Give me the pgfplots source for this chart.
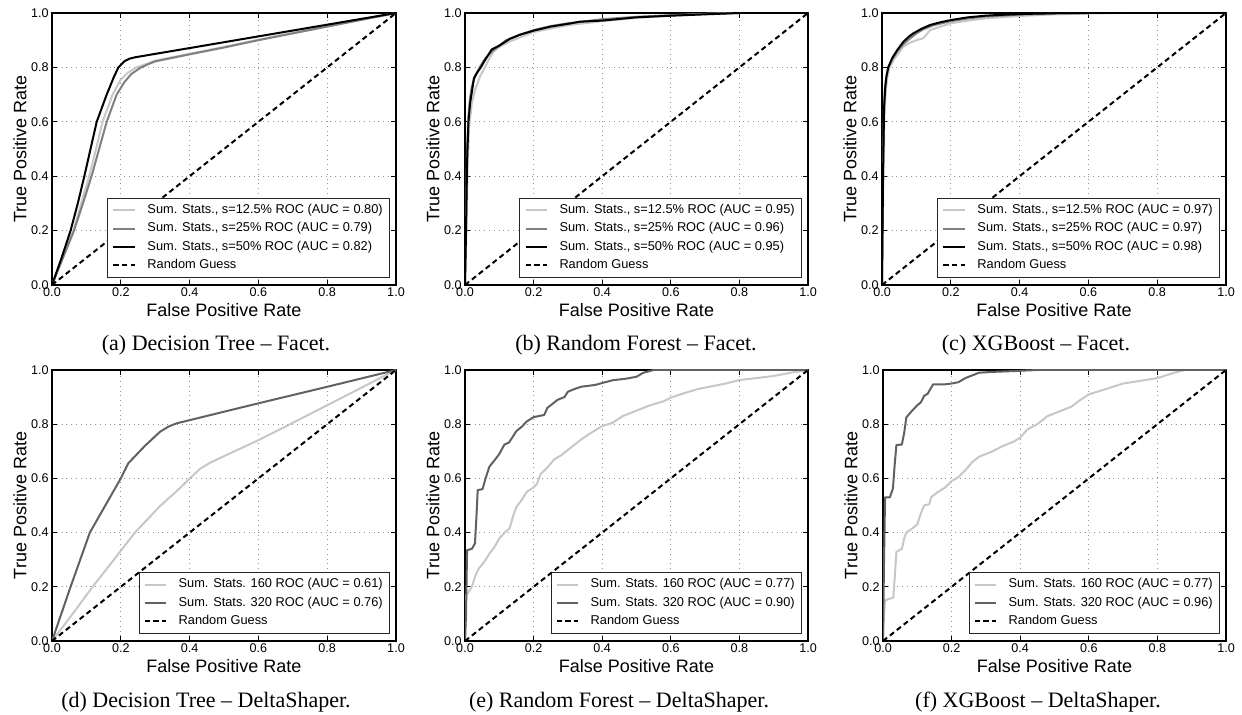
\documentclass[border=0pt]{standalone}
\usepackage{pgfplots}
\pgfplotsset{compat=1.18}
\usepackage{fontspec}
\setmainfont{Liberation Sans}
\newfontfamily\capfont{Liberation Serif}

\definecolor{lgray}{gray}{0.78}
\definecolor{mgray}{gray}{0.5}
\definecolor{dgray}{gray}{0.38}

\pgfplotsset{
  rocax/.style={
    scale only axis, width=172pt, height=136pt,
    xmin=0, xmax=1, ymin=0, ymax=1,
    xtick={0,0.2,0.4,0.6,0.8,1}, ytick={0,0.2,0.4,0.6,0.8,1},
    xticklabels={0.0,0.2,0.4,0.6,0.8,1.0},
    yticklabels={0.0,0.2,0.4,0.6,0.8,1.0},
    grid=major, grid style={dotted, gray!85, line width=0.5pt},
    axis line style={black, line width=0.6pt},
    tick style={black, line width=0.5pt}, major tick length=2.5pt,
    tick label style={font=\fontsize{6.3}{7.5}\selectfont},
    xticklabel style={inner sep=1.1pt},
    yticklabel style={inner sep=1.5pt},
    label style={font=\fontsize{9}{10.5}\selectfont, inner sep=0pt},
    xlabel={False Positive Rate}, ylabel={True Positive Rate},
    xlabel style={at={([yshift=-12.3pt]axis description cs:0.5,0)}, anchor=center},
    ylabel style={at={([xshift=-16pt]axis description cs:0,0.5)}, anchor=center},
    legend style={at={(0.982,0.026)}, anchor=south east, draw=black!85,
      line width=0.5pt, font=\fontsize{6.4}{7.6}\selectfont,
      inner xsep=2.3pt, inner ysep=2pt, row sep=1.2pt,
      nodes={inner sep=1pt, text height=4.6pt, text depth=1.4pt}},
    legend cell align=left,
    legend image code/.code={\draw[#1] (0pt,0pt) -- (10.8pt,0pt); \path (15.5pt,0pt);},
  },
  rl/.style={line width=1pt, line join=round},
  guess/.style={black, line width=1pt, dash pattern=on 2.6pt off 1.8pt},
}

\begin{document}
\begin{tikzpicture}
\useasboundingbox (0,0) rectangle (621pt,357.5pt);

% (a) Decision Tree - Facet
\begin{axis}[rocax, at={(26pt,215pt)}, anchor=south west]
\addplot[rl, lgray] coordinates {(0,0) (0.03,0.1) (0.062,0.2) (0.085,0.3) (0.108,0.4) (0.128,0.5) (0.147,0.6) (0.176,0.7) (0.2,0.755) (0.22,0.78) (0.245,0.8) (0.28,0.815) (0.3,0.825) (0.4,0.85) (0.5,0.875) (0.6,0.902) (0.7,0.927) (0.8,0.951) (0.9,0.975) (1,1)};
\addlegendentry{Sum. Stats., s=12.5\% ROC (AUC = 0.80)}
\addplot[rl, mgray] coordinates {(0,0) (0.032,0.1) (0.064,0.2) (0.09,0.3) (0.115,0.4) (0.137,0.5) (0.159,0.6) (0.188,0.7) (0.21,0.745) (0.23,0.775) (0.255,0.797) (0.28,0.812) (0.3,0.822) (0.4,0.848) (0.5,0.873) (0.6,0.9) (0.7,0.925) (0.8,0.95) (0.9,0.975) (1,1)};
\addlegendentry{Sum. Stats., s=25\% ROC (AUC = 0.79)}
\addplot[rl, black] coordinates {(0,0) (0.028,0.1) (0.054,0.2) (0.075,0.3) (0.094,0.4) (0.112,0.5) (0.13,0.6) (0.159,0.7) (0.18,0.765) (0.193,0.8) (0.21,0.822) (0.225,0.832) (0.241,0.837) (0.4,0.871) (0.6,0.914) (0.8,0.957) (1,1)};
\addlegendentry{Sum. Stats., s=50\% ROC (AUC = 0.82)}
\addplot[guess] coordinates {(0,0) (1,1)};
\addlegendentry{Random Guess}
\end{axis}

% (b) Random Forest - Facet
\begin{axis}[rocax, width=171.5pt, at={(232.5pt,215pt)}, anchor=south west]
\addplot[rl, lgray] coordinates {(0,0) (0.004,0.2) (0.008,0.45) (0.012,0.58) (0.02,0.67) (0.03,0.72) (0.045,0.77) (0.058,0.8) (0.07,0.83) (0.083,0.858) (0.1,0.875) (0.13,0.895) (0.16,0.91) (0.2,0.93) (0.25,0.943) (0.3,0.955) (0.4,0.97) (0.5,0.982) (0.6,0.99) (0.7,0.996) (0.8,1) (1,1)};
\addlegendentry{Sum. Stats., s=12.5\% ROC (AUC = 0.95)}
\addplot[rl, mgray] coordinates {(0,0) (0.003,0.25) (0.006,0.5) (0.01,0.62) (0.015,0.69) (0.02,0.73) (0.03,0.77) (0.045,0.805) (0.06,0.835) (0.08,0.86) (0.1,0.88) (0.12,0.9) (0.16,0.92) (0.2,0.937) (0.25,0.952) (0.3,0.962) (0.4,0.977) (0.5,0.986) (0.6,0.992) (0.7,0.997) (0.8,1) (1,1)};
\addlegendentry{Sum. Stats., s=25\% ROC (AUC = 0.96)}
\addplot[rl, black] coordinates {(0,0) (0.003,0.2) (0.006,0.45) (0.01,0.6) (0.015,0.67) (0.02,0.71) (0.026,0.76) (0.035,0.78) (0.046,0.8) (0.055,0.82) (0.065,0.84) (0.078,0.866) (0.1,0.88) (0.131,0.905) (0.16,0.92) (0.2,0.935) (0.25,0.95) (0.3,0.96) (0.335,0.968) (0.4,0.972) (0.5,0.984) (0.6,0.99) (0.7,0.995) (0.8,1) (1,1)};
\addlegendentry{Sum. Stats., s=50\% ROC (AUC = 0.95)}
\addplot[guess] coordinates {(0,0) (1,1)};
\addlegendentry{Random Guess}
\end{axis}

% (c) XGBoost - Facet
\begin{axis}[rocax, at={(441pt,215pt)}, anchor=south west]
\addplot[rl, lgray] coordinates {(0,0) (0.004,0.4) (0.007,0.62) (0.01,0.7) (0.015,0.76) (0.022,0.8) (0.035,0.83) (0.05,0.855) (0.062,0.876) (0.08,0.89) (0.1,0.9) (0.12,0.907) (0.14,0.937) (0.17,0.95) (0.2,0.962) (0.25,0.972) (0.3,0.98) (0.4,0.989) (0.5,0.995) (0.6,0.998) (0.7,1) (1,1)};
\addlegendentry{Sum. Stats., s=12.5\% ROC (AUC = 0.97)}
\addplot[rl, mgray] coordinates {(0,0) (0.003,0.45) (0.006,0.66) (0.009,0.73) (0.013,0.77) (0.02,0.805) (0.03,0.83) (0.045,0.86) (0.062,0.885) (0.08,0.905) (0.1,0.925) (0.12,0.94) (0.15,0.955) (0.2,0.97) (0.25,0.98) (0.3,0.987) (0.4,0.994) (0.5,0.998) (0.6,1) (1,1)};
\addlegendentry{Sum. Stats., s=25\% ROC (AUC = 0.97)}
\addplot[rl, black] coordinates {(0,0) (0.003,0.4) (0.006,0.65) (0.009,0.72) (0.012,0.76) (0.018,0.8) (0.03,0.835) (0.045,0.865) (0.062,0.894) (0.08,0.915) (0.091,0.925) (0.115,0.942) (0.14,0.956) (0.17,0.966) (0.2,0.974) (0.25,0.984) (0.3,0.99) (0.343,0.993) (0.4,0.996) (0.5,0.999) (0.6,1) (1,1)};
\addlegendentry{Sum. Stats., s=50\% ROC (AUC = 0.98)}
\addplot[guess] coordinates {(0,0) (1,1)};
\addlegendentry{Random Guess}
\end{axis}

% (d) Decision Tree - DeltaShaper
\begin{axis}[rocax, height=135.5pt, at={(26pt,37pt)}, anchor=south west]
\addplot[rl, lgray] coordinates {(0,0) (0.06,0.1) (0.118,0.2) (0.18,0.3) (0.241,0.4) (0.314,0.498) (0.36,0.55) (0.401,0.6) (0.43,0.635) (0.46,0.658) (0.5,0.682) (0.6,0.741) (0.7,0.805) (0.8,0.87) (0.9,0.935) (1,1)};
\addlegendentry{Sum. Stats. 160 ROC (AUC = 0.61)}
\addplot[rl, dgray] coordinates {(0,0) (0.027,0.1) (0.054,0.2) (0.082,0.3) (0.11,0.4) (0.155,0.5) (0.2,0.6) (0.222,0.656) (0.27,0.72) (0.314,0.772) (0.34,0.792) (0.362,0.803) (0.5,0.846) (0.6,0.877) (0.8,0.938) (1,1)};
\addlegendentry{Sum. Stats. 320 ROC (AUC = 0.76)}
\addplot[guess] coordinates {(0,0) (1,1)};
\addlegendentry{Random Guess}
\end{axis}

% (e) Random Forest - DeltaShaper
\begin{axis}[rocax, width=171.5pt, height=135.5pt, at={(232.5pt,37pt)}, anchor=south west]
\addplot[rl, lgray] coordinates {(0,0) (0.003,0.17) (0.01,0.18) (0.02,0.2) (0.03,0.24) (0.04,0.267) (0.055,0.29) (0.07,0.32) (0.085,0.345) (0.1,0.378) (0.115,0.4) (0.13,0.415) (0.14,0.46) (0.15,0.495) (0.165,0.52) (0.18,0.55) (0.2,0.567) (0.21,0.58) (0.22,0.615) (0.24,0.64) (0.26,0.67) (0.28,0.685) (0.3,0.705) (0.32,0.725) (0.34,0.745) (0.37,0.77) (0.4,0.793) (0.43,0.805) (0.46,0.83) (0.5,0.85) (0.54,0.87) (0.58,0.885) (0.6,0.898) (0.64,0.915) (0.68,0.93) (0.72,0.94) (0.76,0.95) (0.8,0.963) (0.85,0.97) (0.9,0.978) (0.95,0.99) (1,1)};
\addlegendentry{Sum. Stats. 160 ROC (AUC = 0.77)}
\addplot[rl, dgray] coordinates {(0,0) (0.003,0.1) (0.006,0.335) (0.02,0.34) (0.029,0.36) (0.033,0.45) (0.037,0.557) (0.051,0.56) (0.06,0.6) (0.071,0.643) (0.085,0.665) (0.1,0.69) (0.115,0.725) (0.128,0.732) (0.14,0.755) (0.15,0.775) (0.165,0.79) (0.18,0.81) (0.2,0.826) (0.215,0.83) (0.231,0.834) (0.24,0.86) (0.255,0.875) (0.27,0.89) (0.29,0.9) (0.3,0.92) (0.32,0.93) (0.338,0.938) (0.38,0.945) (0.4,0.952) (0.43,0.962) (0.47,0.968) (0.5,0.975) (0.52,0.99) (0.55,1) (1,1)};
\addlegendentry{Sum. Stats. 320 ROC (AUC = 0.90)}
\addplot[guess] coordinates {(0,0) (1,1)};
\addlegendentry{Random Guess}
\end{axis}

% (f) XGBoost - DeltaShaper
\begin{axis}[rocax, width=171.5pt, height=135.5pt, at={(441.5pt,37pt)}, anchor=south west]
\addplot[rl, lgray] coordinates {(0,0) (0.003,0.1) (0.006,0.15) (0.03,0.16) (0.035,0.25) (0.039,0.329) (0.055,0.34) (0.062,0.38) (0.068,0.4) (0.085,0.415) (0.1,0.43) (0.11,0.47) (0.12,0.5) (0.135,0.505) (0.14,0.53) (0.16,0.55) (0.18,0.565) (0.2,0.59) (0.22,0.605) (0.24,0.63) (0.26,0.66) (0.28,0.68) (0.3,0.69) (0.32,0.7) (0.35,0.72) (0.38,0.735) (0.4,0.75) (0.42,0.78) (0.45,0.8) (0.48,0.83) (0.52,0.85) (0.55,0.865) (0.57,0.885) (0.6,0.91) (0.65,0.93) (0.7,0.95) (0.75,0.96) (0.8,0.97) (0.85,0.99) (0.88,1) (1,1)};
\addlegendentry{Sum. Stats. 160 ROC (AUC = 0.77)}
\addplot[rl, dgray] coordinates {(0,0) (0.003,0.3) (0.006,0.53) (0.02,0.53) (0.029,0.563) (0.034,0.65) (0.039,0.723) (0.055,0.725) (0.062,0.77) (0.068,0.825) (0.085,0.85) (0.1,0.87) (0.11,0.88) (0.12,0.905) (0.13,0.912) (0.146,0.947) (0.18,0.947) (0.2,0.95) (0.22,0.955) (0.24,0.97) (0.26,0.98) (0.28,0.99) (0.32,0.993) (0.38,0.996) (0.45,1) (1,1)};
\addlegendentry{Sum. Stats. 320 ROC (AUC = 0.96)}
\addplot[guess] coordinates {(0,0) (1,1)};
\addlegendentry{Random Guess}
\end{axis}

\begin{scope}[every node/.style={font=\capfont\fontsize{11}{13}\selectfont}]
\node at (108pt,185pt) {(a) Decision Tree \textendash{} Facet.};
\node at (318pt,185pt) {(b) Random Forest \textendash{} Facet.};
\node at (518pt,185pt) {(c) XGBoost \textendash{} Facet.};
\node at (103pt,6.5pt) {(d) Decision Tree \textendash{} DeltaShaper.};
\node at (309.5pt,6.5pt) {(e) Random Forest \textendash{} DeltaShaper.};
\node at (519pt,6.5pt) {(f) XGBoost \textendash{} DeltaShaper.};
\end{scope}
\end{tikzpicture}
\end{document}
